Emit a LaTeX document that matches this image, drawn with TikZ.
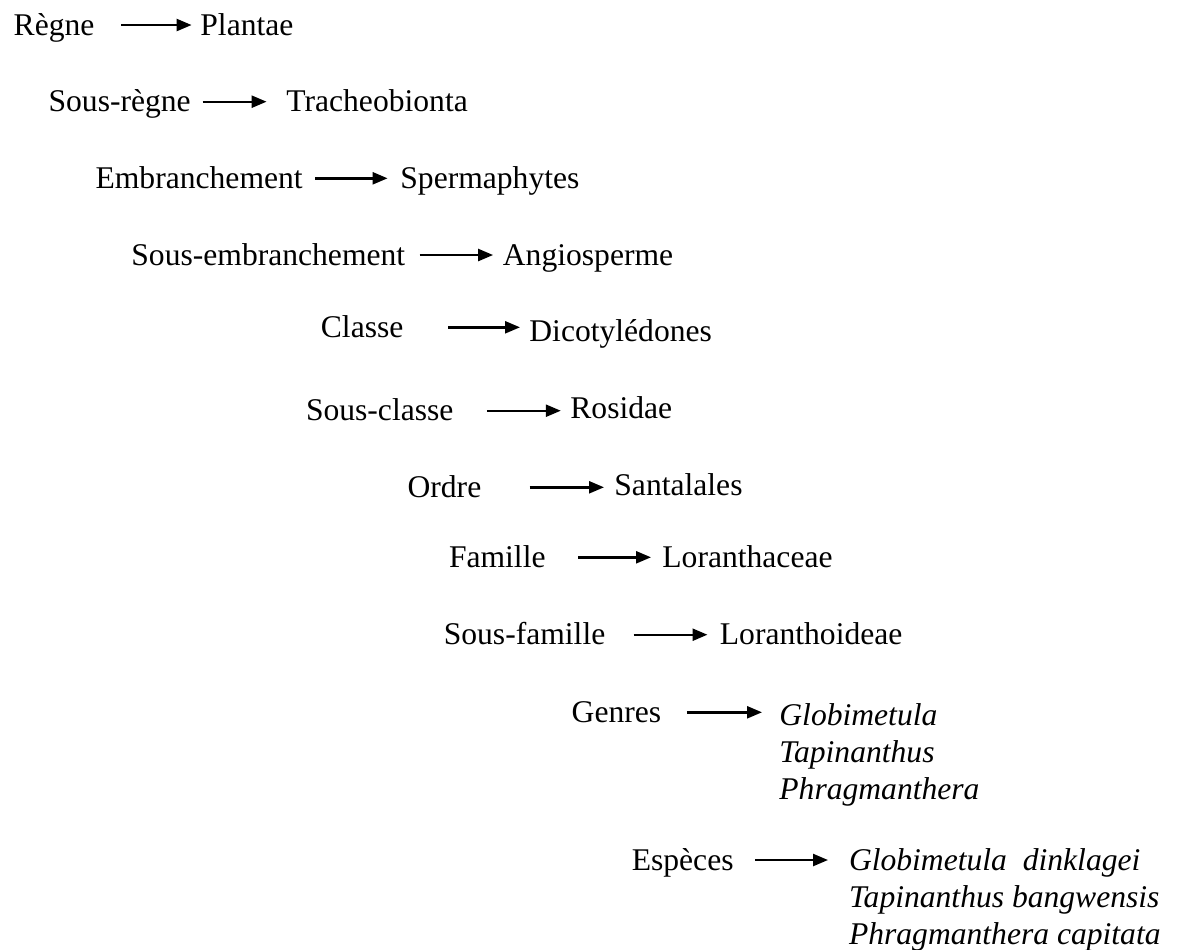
\documentclass[tikz,border=0pt]{standalone}
\usepackage{fontspec}
\setmainfont{Liberation Serif}
\usetikzlibrary{arrows.meta, positioning}

\newcommand{\taxfont}{\fontsize{15.8pt}{19pt}\selectfont}

\tikzset{
  rank/.style  = {anchor=base west, inner sep=0pt, text height=11pt, text depth=1pt, font=\taxfont},
  taxon/.style = {anchor=base west, inner sep=0pt, font=\taxfont},
  latin/.style = {taxon, font=\taxfont\itshape},
  link/.style  = {-{Triangle[length=7.5pt, width=6pt]}, line width=1.2pt},
}

\begin{document}
\begin{tikzpicture}[x=0.5pt, y=-0.5pt]
  \useasboundingbox (0,0) rectangle (1177,949);

  % Ranks
  \node[rank] (regne)   at (13.3, 35)    {Règne};
  \node[rank] (sregne)  at (48.2, 111.7) {Sous-règne};
  \node[rank] (embr)    at (95.2, 188.3) {Embranchement};
  \node[rank] (sembr)   at (131, 265)    {Sous-embranchement};
  \node[rank] (classe)  at (320.5, 337.3) {Classe};
  \node[rank] (sclasse) at (305.6, 420.7) {Sous-classe};
  \node[rank] (ordre)   at (407.2, 497.3) {Ordre};
  \node[rank] (famille) at (448.6, 567.3) {Famille};
  \node[rank] (sfam)    at (443.4, 644.7) {Sous-famille};
  \node[rank] (genres)  at (571.3, 722.3) {Genres};
  \node[rank] (especes) at (631.4, 870)   {Espèces};

  % Taxa
  \node[taxon] (plantae)    at (200, 35)     {Plantae};
  \node[taxon] (tracheo)    at (286, 111.7)  {Tracheobionta};
  \node[taxon] (sperma)     at (400, 188.3)  {Spermaphytes};
  \node[taxon] (angio)      at (502.5, 265)  {Angiosperme};
  \node[taxon] (dicot)      at (529, 341.7)  {Dicotylédones};
  \node[taxon] (rosidae)    at (570, 418.3)  {Rosidae};
  \node[taxon] (santal)     at (614, 495.7)  {Santalales};
  \node[taxon] (loranth)    at (662, 567.3)  {Loranthaceae};
  \node[taxon] (loranthoid) at (719.5, 644.7) {Loranthoideae};

  \node[latin] (glob)   at (779, 725.7) {Globimetula};
  \node[latin] (tapin)  at (779, 762.3) {Tapinanthus};
  \node[latin] (phrag)  at (779, 799)   {Phragmanthera};

  \node[latin] (globd)  at (848.6, 870.7) {Globimetula\ \ dinklagei};
  \node[latin] (tapinb) at (848.6, 907.3) {Tapinanthus bangwensis};
  \node[latin] (phragc) at (848.6, 944)   {Phragmanthera capitata};

  % Arrows
  \path[link] (regne.east)   edge[shorten <=13.3pt, shorten >=4.2pt] (regne.east -| plantae.west)
              (sregne.east)  edge[shorten <=5.7pt,  shorten >=9.7pt] (sregne.east -| tracheo.west)
              (embr.east)    edge[shorten <=6pt,    shorten >=6.2pt] (embr.east -| sperma.west)
              (sembr.east)   edge[shorten <=7pt,    shorten >=4.7pt] (sembr.east -| angio.west)
              (classe.east)  edge[shorten <=22.3pt, shorten >=4.5pt] (classe.east -| dicot.west)
              (sclasse.east) edge[shorten <=16.5pt, shorten >=4.6pt] (sclasse.east -| rosidae.west)
              (ordre.east)   edge[shorten <=23.9pt, shorten >=5pt]   (ordre.east -| santal.west)
              (famille.east) edge[shorten <=16.2pt, shorten >=5.5pt] (famille.east -| loranth.west)
              (sfam.east)    edge[shorten <=14pt,   shorten >=6pt]   (sfam.east -| loranthoid.west)
              (genres.east)  edge[shorten <=12.6pt, shorten >=8.5pt] (genres.east -| glob.west)
              (especes.east) edge[shorten <=10.7pt, shorten >=10.3pt] (especes.east -| globd.west);
\end{tikzpicture}
\end{document}
